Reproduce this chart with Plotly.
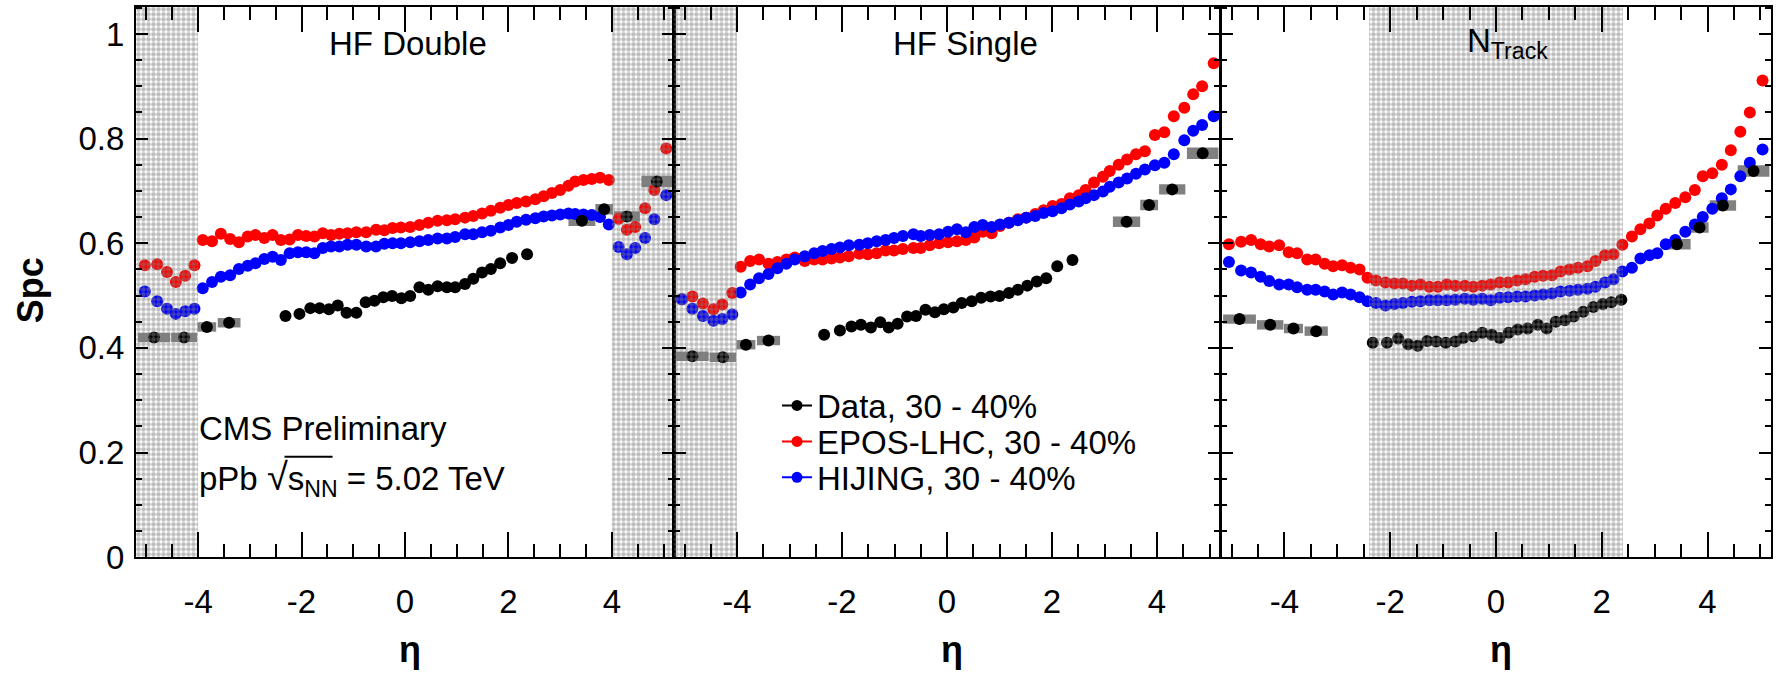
import plotly.graph_objects as go

W, H = 1779, 686

# ---------------------------------------------------------------- data
# Forward-region data bins (same binning in all three selections)
FWD_ETA = [-4.85, -4.27, -3.83, -3.40, 3.42, 3.85, 4.29, 4.87]
FWD_BINW = [0.62, 0.50, 0.36, 0.44, 0.52, 0.34, 0.50, 0.60]
FWD_SYS = [0.009, 0.009, 0.009, 0.009, 0.010, 0.010, 0.010, 0.011]

HFD_FWD_SPC = [0.420, 0.420, 0.440, 0.448, 0.643, 0.665, 0.651, 0.718]
HFS_FWD_SPC = [0.384, 0.382, 0.406, 0.414, 0.641, 0.673, 0.703, 0.772]
NTRK_FWD_SPC = [0.455, 0.444, 0.437, 0.432, 0.598, 0.630, 0.672, 0.738]

# Tracker-region data
TRK_BINW = 0.18
TRK_SYS = 0.006

HFD_TRK_ETA = [-2.31, -2.04, -1.83, -1.65, -1.47, -1.30, -1.13, -0.94, -0.76, -0.59,
               -0.42, -0.25, -0.07, 0.10, 0.28, 0.45, 0.63, 0.81, 0.97, 1.16,
               1.32, 1.49, 1.66, 1.84, 2.07, 2.36]
HFD_TRK_SPC = [0.461, 0.465, 0.476, 0.476, 0.474, 0.481, 0.467, 0.467, 0.487, 0.490,
               0.497, 0.499, 0.495, 0.499, 0.516, 0.511, 0.518, 0.516, 0.516, 0.522,
               0.532, 0.544, 0.551, 0.562, 0.572, 0.579]

HFS_TRK_ETA = [-2.34, -2.04, -1.82, -1.64, -1.45, -1.27, -1.11, -0.94, -0.76, -0.59,
               -0.41, -0.23, -0.06, 0.12, 0.28, 0.47, 0.65, 0.83, 1.00, 1.18,
               1.35, 1.53, 1.71, 1.89, 2.10, 2.39]
HFS_TRK_SPC = [0.425, 0.433, 0.441, 0.444, 0.439, 0.449, 0.439, 0.446, 0.460, 0.461,
               0.473, 0.468, 0.474, 0.477, 0.486, 0.489, 0.496, 0.498, 0.499, 0.505,
               0.511, 0.519, 0.527, 0.533, 0.556, 0.568]

NTRK_TRK_ETA = [-2.33, -2.06, -1.85, -1.66, -1.48, -1.30, -1.13, -0.95, -0.77, -0.62,
                -0.43, -0.26, -0.08, 0.07, 0.24, 0.41, 0.60, 0.79, 0.96, 1.13,
                1.30, 1.47, 1.65, 1.84, 2.02, 2.18, 2.37]
NTRK_TRK_SPC = [0.410, 0.410, 0.418, 0.407, 0.404, 0.413, 0.412, 0.410, 0.412, 0.419,
                0.422, 0.429, 0.425, 0.419, 0.429, 0.435, 0.437, 0.444, 0.437, 0.450,
                0.453, 0.460, 0.469, 0.478, 0.484, 0.487, 0.492]

# Model curves: HF Double selection
HFD_MODEL_ETA = [-5.03, -4.79, -4.60, -4.43, -4.25, -4.07,
                 -3.91, -3.73, -3.56, -3.38, -3.21, -3.04, -2.89, -2.72, -2.56, -2.40,
                 -2.23, -2.07, -1.91, -1.75, -1.59, -1.43, -1.27, -1.11, -0.94, -0.75,
                 -0.56, -0.40, -0.24, -0.08, 0.10, 0.28, 0.45, 0.63, 0.81, 0.97,
                 1.16, 1.32, 1.49, 1.66, 1.84, 2.00, 2.16, 2.34, 2.52, 2.68,
                 2.84, 3.00, 3.16, 3.29, 3.45, 3.61, 3.77, 3.94,
                 4.13, 4.29, 4.45, 4.64, 4.82, 5.05]
HFD_EPOS = [0.558, 0.560, 0.545, 0.526, 0.538, 0.558,
            0.606, 0.604, 0.618, 0.608, 0.602, 0.613, 0.616, 0.610, 0.616, 0.606,
            0.607, 0.616, 0.614, 0.613, 0.619, 0.616, 0.618, 0.619, 0.621, 0.621,
            0.626, 0.625, 0.629, 0.630, 0.631, 0.635, 0.639, 0.643, 0.644, 0.646,
            0.649, 0.652, 0.657, 0.662, 0.668, 0.673, 0.677, 0.680, 0.684, 0.690,
            0.696, 0.702, 0.710, 0.718, 0.721, 0.723, 0.725, 0.721,
            0.647, 0.626, 0.631, 0.667, 0.702, 0.781]
HFD_HIJING = [0.508, 0.489, 0.475, 0.465, 0.470, 0.475,
              0.514, 0.526, 0.536, 0.539, 0.551, 0.557, 0.562, 0.570, 0.574, 0.568,
              0.581, 0.583, 0.583, 0.581, 0.591, 0.594, 0.594, 0.597, 0.597, 0.594,
              0.594, 0.599, 0.600, 0.600, 0.602, 0.604, 0.606, 0.609, 0.609, 0.612,
              0.617, 0.617, 0.621, 0.624, 0.630, 0.635, 0.641, 0.645, 0.648, 0.651,
              0.653, 0.655, 0.657, 0.656, 0.655, 0.654, 0.650, 0.636,
              0.593, 0.579, 0.591, 0.610, 0.646, 0.692]

# Model curves: HF Single selection
HFS_MODEL_ETA = [-5.05, -4.85, -4.65, -4.45, -4.28, -4.09,
                 -3.93, -3.75, -3.58, -3.40, -3.23, -3.06, -2.90, -2.71, -2.53, -2.37,
                 -2.20, -2.04, -1.87, -1.67, -1.51, -1.34, -1.17, -1.01, -0.84, -0.64,
                 -0.50, -0.33, -0.15, 0.02, 0.19, 0.36, 0.52, 0.68, 0.85, 1.01,
                 1.18, 1.35, 1.51, 1.68, 1.84, 2.01, 2.18, 2.34, 2.51, 2.64,
                 2.80, 2.97, 3.10, 3.27, 3.43, 3.60, 3.77,
                 3.96, 4.14, 4.32, 4.52, 4.69, 4.86, 5.08]
HFS_EPOS = [0.493, 0.498, 0.485, 0.474, 0.483, 0.505,
            0.555, 0.566, 0.569, 0.561, 0.564, 0.569, 0.573, 0.566, 0.569, 0.569,
            0.571, 0.573, 0.575, 0.580, 0.579, 0.581, 0.586, 0.586, 0.589, 0.591,
            0.591, 0.596, 0.600, 0.602, 0.604, 0.606, 0.611, 0.622, 0.619, 0.633,
            0.639, 0.646, 0.649, 0.656, 0.663, 0.671, 0.675, 0.686, 0.692, 0.702,
            0.716, 0.727, 0.738, 0.750, 0.760, 0.770, 0.776,
            0.807, 0.812, 0.843, 0.859, 0.885, 0.900, 0.944]
HFS_HIJING = [0.493, 0.475, 0.461, 0.452, 0.455, 0.464,
              0.506, 0.521, 0.533, 0.541, 0.552, 0.561, 0.569, 0.575, 0.581, 0.585,
              0.589, 0.592, 0.596, 0.597, 0.600, 0.604, 0.606, 0.610, 0.614, 0.617,
              0.614, 0.616, 0.617, 0.622, 0.627, 0.621, 0.631, 0.635, 0.631, 0.636,
              0.639, 0.644, 0.649, 0.652, 0.658, 0.661, 0.667, 0.674, 0.680, 0.686,
              0.692, 0.699, 0.708, 0.716, 0.724, 0.733, 0.741,
              0.749, 0.754, 0.770, 0.797, 0.815, 0.826, 0.843]

# Model curves: N_Track selection
NTRK_MODEL_ETA = [-5.05, -4.82, -4.63, -4.45, -4.29, -4.10, -3.92, -3.76, -3.57, -3.41,
                  -3.24, -3.08, -2.91, -2.75, -2.58, -2.43, -2.27, -2.09, -1.92, -1.76,
                  -1.59, -1.43, -1.26, -1.10, -0.93, -0.77, -0.59, -0.43, -0.26, -0.10,
                  0.07, 0.23, 0.40, 0.56, 0.73, 0.89, 1.06, 1.22, 1.39, 1.55,
                  1.73, 1.88, 2.06, 2.22, 2.39, 2.57, 2.73, 2.90, 3.05, 3.21,
                  3.39, 3.58, 3.76, 3.91, 4.09, 4.27, 4.44, 4.62, 4.80, 5.04]
NTRK_EPOS = [0.598, 0.603, 0.606, 0.598, 0.594, 0.596, 0.583, 0.581, 0.569, 0.569,
             0.561, 0.556, 0.558, 0.553, 0.550, 0.534, 0.529, 0.525, 0.523, 0.523,
             0.519, 0.521, 0.517, 0.517, 0.521, 0.519, 0.519, 0.517, 0.519, 0.521,
             0.525, 0.525, 0.529, 0.531, 0.536, 0.538, 0.539, 0.546, 0.550, 0.553,
             0.556, 0.566, 0.577, 0.579, 0.597, 0.613, 0.627, 0.638, 0.653, 0.666,
             0.677, 0.688, 0.702, 0.728, 0.734, 0.750, 0.778, 0.813, 0.850, 0.911]
NTRK_HIJING = [0.564, 0.548, 0.544, 0.536, 0.528, 0.521, 0.521, 0.516, 0.511, 0.511,
               0.508, 0.502, 0.506, 0.502, 0.497, 0.489, 0.486, 0.481, 0.484, 0.486,
               0.488, 0.489, 0.491, 0.491, 0.491, 0.492, 0.494, 0.492, 0.494, 0.491,
               0.496, 0.497, 0.498, 0.498, 0.500, 0.502, 0.504, 0.508, 0.509, 0.511,
               0.513, 0.517, 0.525, 0.531, 0.546, 0.553, 0.571, 0.577, 0.581, 0.598,
               0.606, 0.622, 0.636, 0.650, 0.666, 0.686, 0.703, 0.728, 0.754, 0.779]

PANEL_TITLES = ["HF Double", "HF Single", "N<sub>Track</sub>"]
# eta regions excluded by each event selection (shaded)
EXCLUDED = [[(-5.2, -4.0), (4.0, 5.2)], [(-5.2, -4.0)], [(-2.4, 2.4)]]
LEGEND_LABELS = ["Data, 30 - 40%", "EPOS-LHC, 30 - 40%", "HIJING, 30 - 40%"]

X_RANGE = [-5.2, 5.2]
Y_RANGE = [0.0, 1.052]
X_TICKS = [-4, -2, 0, 2, 4]
X_TICK_TEXT = ["-4", "-2", "0", "2", "4"]

# ---------------------------------------------------------------- style
FONT = "Liberation Sans, Arial, Helvetica, sans-serif"
C_DATA, C_EPOS, C_HIJING = "#000000", "#ff0000", "#0000ff"
C_SYS = "#808080"
MSIZE = 12

# panel frames in pixels
PANEL_PX = [(136, 674), (674, 1220), (1221, 1771)]
Y_TOP_PX, Y_BOT_PX = 7, 573
Y_DOMAIN = [1 - Y_BOT_PX / H, 1 - Y_TOP_PX / H]

panels = [
    dict(fwd=HFD_FWD_SPC, trk_eta=HFD_TRK_ETA, trk=HFD_TRK_SPC,
         meta=HFD_MODEL_ETA, epos=HFD_EPOS, hij=HFD_HIJING, title_x=0.06),
    dict(fwd=HFS_FWD_SPC, trk_eta=HFS_TRK_ETA, trk=HFS_TRK_SPC,
         meta=HFS_MODEL_ETA, epos=HFS_EPOS, hij=HFS_HIJING, title_x=0.35),
    dict(fwd=NTRK_FWD_SPC, trk_eta=NTRK_TRK_ETA, trk=NTRK_TRK_SPC,
         meta=NTRK_MODEL_ETA, epos=NTRK_EPOS, hij=NTRK_HIJING, title_x=0.22),
]

fig = go.Figure()
annotations = []

for i, p in enumerate(panels):
    sfx = "" if i == 0 else str(i + 1)
    xa, ya = "x" + sfx, "y" + sfx

    # systematic-uncertainty boxes of the data
    box_x = FWD_ETA + p["trk_eta"]
    box_val = p["fwd"] + p["trk"]
    box_sys = FWD_SYS + [TRK_SYS] * len(p["trk_eta"])
    box_w = FWD_BINW + [TRK_BINW] * len(p["trk_eta"])
    fig.add_trace(go.Bar(
        x=box_x, y=[2 * s for s in box_sys],
        base=[v - s for v, s in zip(box_val, box_sys)],
        width=box_w, marker=dict(color=C_SYS, line=dict(width=0)),
        xaxis=xa, yaxis=ya, showlegend=False, hoverinfo="skip"))

    # model points
    fig.add_trace(go.Scatter(
        x=p["meta"], y=p["epos"], mode="markers",
        marker=dict(color=C_EPOS, size=MSIZE, line=dict(width=0)),
        xaxis=xa, yaxis=ya, showlegend=False))
    fig.add_trace(go.Scatter(
        x=p["meta"], y=p["hij"], mode="markers",
        marker=dict(color=C_HIJING, size=MSIZE, line=dict(width=0)),
        xaxis=xa, yaxis=ya, showlegend=False))

    # data points
    fig.add_trace(go.Scatter(
        x=FWD_ETA + p["trk_eta"], y=p["fwd"] + p["trk"], mode="markers",
        marker=dict(color=C_DATA, size=MSIZE, line=dict(width=0)),
        xaxis=xa, yaxis=ya, showlegend=False))

    # shaded (excluded) eta ranges drawn on top as a checkered fill
    for (a, b) in EXCLUDED[i]:
        fig.add_trace(go.Scatter(
            x=[a, b, b, a, a], y=[Y_RANGE[0], Y_RANGE[0], Y_RANGE[1], Y_RANGE[1], Y_RANGE[0]],
            mode="none", fill="toself", fillcolor="rgba(0,0,0,0)",
            fillpattern=dict(shape=".", size=5, solidity=0.65,
                             fgcolor="#7c7c7c", bgcolor="rgba(0,0,0,0)"),
            xaxis=xa, yaxis=ya, showlegend=False, hoverinfo="skip"))

    x0, x1 = PANEL_PX[i]
    common_ax = dict(showline=True, linewidth=2, linecolor="black", mirror="allticks",
                     showgrid=False, zeroline=False, ticks="inside", tickwidth=2,
                     tickcolor="black",
                     tickfont=dict(family=FONT, size=33, color="black"))
    fig.update_layout(**{
        "xaxis" + sfx: dict(common_ax, domain=[x0 / W, x1 / W], range=X_RANGE,
                            anchor=ya, tickmode="array", tickvals=X_TICKS,
                            ticktext=X_TICK_TEXT, ticklen=25, ticklabelstandoff=14,
                            minor=dict(tickmode="linear", tick0=0, dtick=0.5,
                                       ticks="inside", ticklen=13, tickwidth=2,
                                       tickcolor="black")),
        "yaxis" + sfx: dict(common_ax, domain=Y_DOMAIN, range=Y_RANGE, anchor=xa,
                            tickmode="linear", tick0=0, dtick=0.2, ticklen=12,
                            showticklabels=(i == 0), ticklabelstandoff=3,
                            minor=dict(tickmode="linear", tick0=0, dtick=0.05,
                                       ticks="inside", ticklen=6, tickwidth=2,
                                       tickcolor="black")),
    })

    annotations.append(dict(
        text=PANEL_TITLES[i], xref=xa, yref=ya, x=p["title_x"], y=0.982,
        xanchor="center", yanchor="middle", showarrow=False,
        font=dict(family=FONT, size=33, color="black")))
    annotations.append(dict(
        text="<b>η</b>", xref=xa, yref="paper", x=0.1, y=1 - 668 / H,
        xanchor="center", yanchor="middle", showarrow=False,
        font=dict(family=FONT, size=36, color="black")))

annotations += [
    dict(text="<b>Spc</b>", xref="paper", yref="y", x=30 / W, y=0.51,
         textangle=-90, xanchor="center", yanchor="middle", showarrow=False,
         font=dict(family=FONT, size=36, color="black")),
    dict(text="CMS Preliminary", xref="x", yref="y", x=-4.02, y=0.245,
         xanchor="left", yanchor="middle", showarrow=False,
         font=dict(family=FONT, size=33, color="black")),
    dict(text="pPb <span style='font-size:38px'>√</span>s<sub>NN</sub> = 5.02 TeV",
         xref="x", yref="y", x=-4.02, y=0.149,
         xanchor="left", yanchor="middle", showarrow=False,
         font=dict(family=FONT, size=33, color="black")),
]

# bar of the square-root sign, spanning s_NN
sqrt_bar = dict(type="line", xref="x", yref="y", x0=-2.33, x1=-1.40, y0=0.192, y1=0.192,
                line=dict(color="black", width=2))

# legend entries, one legend box per row
legend_colors = [C_DATA, C_EPOS, C_HIJING]
legend_y_px = [417, 454, 491]
for k, (lab, col) in enumerate(zip(LEGEND_LABELS, legend_colors)):
    lname = "legend" if k == 0 else "legend%d" % (k + 1)
    fig.add_trace(go.Scatter(
        x=[None], y=[None], mode="lines+markers", name=lab,
        marker=dict(color=col, size=11), line=dict(color=col, width=2),
        xaxis="x2", yaxis="y2", legend=lname, showlegend=True))
    fig.update_layout(**{lname: dict(
        x=777 / W, y=1 - legend_y_px[k] / H, xanchor="left", yanchor="middle",
        bgcolor="rgba(0,0,0,0)", borderwidth=0,
        font=dict(family=FONT, size=33, color="black"))})

fig.update_layout(
    width=W, height=H, margin=dict(l=0, r=0, t=0, b=0),
    paper_bgcolor="white", plot_bgcolor="white",
    barmode="overlay", showlegend=True, annotations=annotations,
    shapes=[sqrt_bar],
)

fig.write_html("out.html")
